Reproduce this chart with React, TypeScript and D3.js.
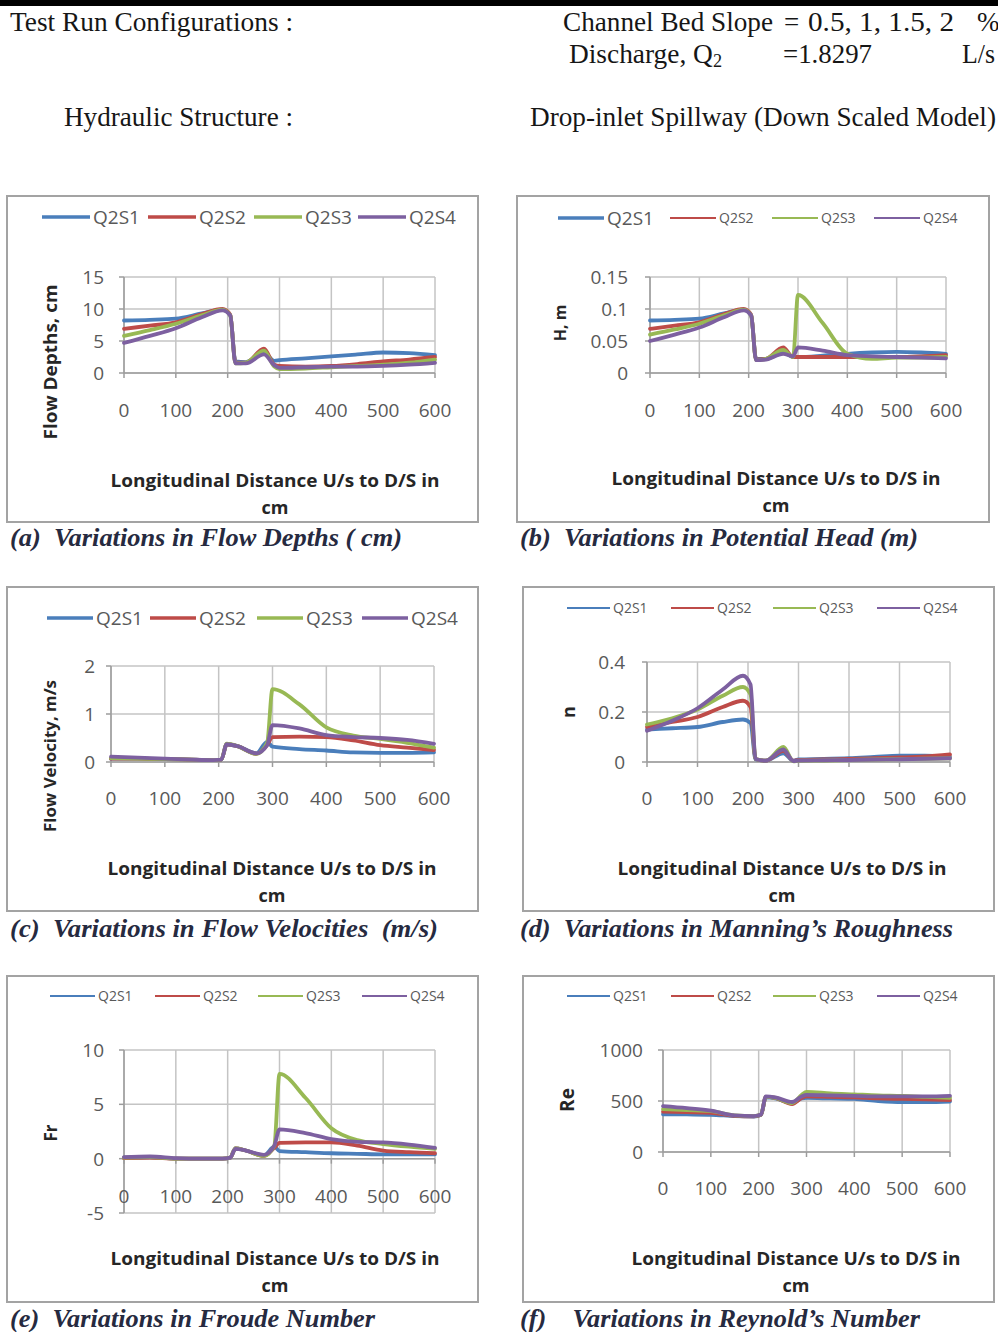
import React from 'react';
import * as d3 from 'd3';

// longitudinal distance (cm) at which every series is sampled
const distance = [0, 50, 100, 150, 190, 205, 215, 235, 270, 290, 300, 350, 400, 450, 500, 550, 600];
const xTicks = [0, 100, 200, 300, 400, 500, 600];
const seriesNames = ['Q2S1', 'Q2S2', 'Q2S3', 'Q2S4'];
const seriesColors = ['#4a7ebb', '#be4b48', '#98b954', '#7d60a0'];

// (a) flow depths, cm
const flowDepths = [
  [8.2, 8.3, 8.5, 9.3, 9.9, 9.0, 1.8, 1.7, 3.2, 1.9, 2.0, 2.3, 2.6, 2.9, 3.2, 3.1, 2.8],
  [6.9, 7.4, 7.9, 9.2, 10.0, 9.1, 1.6, 1.6, 3.8, 1.3, 1.1, 1.0, 1.1, 1.4, 1.8, 2.1, 2.5],
  [5.8, 6.7, 7.7, 9.0, 9.9, 9.0, 1.5, 1.6, 3.5, 1.0, 0.6, 0.7, 0.9, 1.1, 1.3, 1.6, 2.1],
  [4.7, 5.8, 7.0, 8.7, 9.8, 9.0, 1.5, 1.5, 2.9, 1.2, 0.8, 0.9, 1.0, 1.0, 1.1, 1.3, 1.6],
];
const depthTicks = [0, 5, 10, 15];

// (b) potential head, m
const potentialHead = [
  [0.082, 0.083, 0.085, 0.093, 0.099, 0.09, 0.022, 0.022, 0.032, 0.025, 0.025, 0.027, 0.03, 0.032, 0.033, 0.032, 0.03],
  [0.069, 0.074, 0.079, 0.092, 0.1, 0.091, 0.021, 0.022, 0.04, 0.025, 0.025, 0.025, 0.025, 0.025, 0.025, 0.026, 0.028],
  [0.06, 0.068, 0.077, 0.09, 0.099, 0.09, 0.02, 0.022, 0.036, 0.025, 0.122, 0.078, 0.03, 0.022, 0.024, 0.024, 0.025],
  [0.05, 0.06, 0.071, 0.087, 0.098, 0.09, 0.02, 0.021, 0.03, 0.026, 0.04, 0.035, 0.028, 0.026, 0.025, 0.024, 0.023],
];
const headTicks = [0, 0.05, 0.1, 0.15];

// (c) flow velocity, m/s
const flowVelocity = [
  [0.07, 0.07, 0.06, 0.05, 0.04, 0.05, 0.37, 0.33, 0.18, 0.42, 0.32, 0.27, 0.24, 0.2, 0.19, 0.19, 0.2],
  [0.07, 0.07, 0.06, 0.05, 0.04, 0.05, 0.37, 0.33, 0.17, 0.35, 0.52, 0.53, 0.52, 0.45, 0.35, 0.3, 0.25],
  [0.08, 0.07, 0.06, 0.05, 0.04, 0.05, 0.38, 0.33, 0.17, 0.4, 1.52, 1.2, 0.72, 0.55, 0.48, 0.4, 0.3],
  [0.11, 0.09, 0.07, 0.05, 0.04, 0.05, 0.37, 0.33, 0.18, 0.35, 0.77, 0.7, 0.56, 0.52, 0.5, 0.46, 0.38],
];
const velocityTicks = [0, 1, 2];

// (d) Manning's roughness n
const manningN = [
  [0.13, 0.135, 0.14, 0.16, 0.17, 0.155, 0.01, 0.005, 0.035, 0.005, 0.01, 0.012, 0.015, 0.02, 0.025, 0.025, 0.02],
  [0.14, 0.16, 0.18, 0.22, 0.245, 0.22, 0.012, 0.005, 0.045, 0.005, 0.008, 0.01, 0.012, 0.015, 0.018, 0.022, 0.03],
  [0.15, 0.175, 0.21, 0.265, 0.3, 0.27, 0.012, 0.005, 0.06, 0.003, 0.005, 0.006, 0.008, 0.01, 0.012, 0.013, 0.015],
  [0.125, 0.165, 0.215, 0.29, 0.345, 0.31, 0.012, 0.005, 0.05, 0.004, 0.006, 0.007, 0.008, 0.01, 0.011, 0.013, 0.015],
];
const manningTicks = [0, 0.2, 0.4];

// (e) Froude number
const froude = [
  [0.1, 0.15, 0.0, 0.0, 0.0, 0.1, 0.95, 0.75, 0.3, 1.1, 0.7, 0.6, 0.5, 0.45, 0.4, 0.4, 0.4],
  [0.05, 0.1, 0.0, 0.0, 0.0, 0.1, 0.95, 0.75, 0.25, 1.0, 1.45, 1.5, 1.5, 1.2, 0.75, 0.6, 0.5],
  [0.1, 0.15, 0.0, 0.0, 0.0, 0.1, 0.95, 0.75, 0.25, 1.2, 7.8, 5.6, 2.8, 1.7, 1.35, 1.1, 0.9],
  [0.15, 0.2, 0.05, 0.0, 0.0, 0.1, 0.9, 0.75, 0.35, 1.2, 2.7, 2.35, 1.8, 1.55, 1.5, 1.3, 1.0],
];
const froudeTicks = [-5, 0, 5, 10];

// (f) Reynold's number
const reynolds = [
  [370, 368, 365, 352, 348, 365, 535, 525, 480, 525, 530, 525, 520, 500, 490, 490, 495],
  [395, 390, 385, 355, 350, 365, 540, 530, 470, 530, 545, 540, 535, 525, 520, 515, 510],
  [420, 410, 400, 360, 352, 368, 540, 530, 480, 560, 590, 575, 565, 555, 550, 540, 530],
  [450, 430, 405, 360, 352, 368, 545, 535, 490, 545, 560, 555, 550, 545, 545, 545, 550],
];
const reynoldsTicks = [0, 500, 1000];

const xTitle = 'Longitudinal Distance U/s to D/S in';
const SANS = '"Open Sans", "Noto Sans", sans-serif';
const SERIF = '"Liberation Serif", "DejaVu Serif", serif';

const panels = [
  {
    id: 'a', data: flowDepths, ticks: depthTicks, yTitle: 'Flow Depths, cm',
    box: [7, 196, 471, 326], plot: [124, 435, 277, 373], labelY: 417, tickGap: 20,
    yTitleX: 50, yTitleY: 362, yTitleSize: 17, yTitleLen: 155,
    legendX: [42, 148, 254, 358], legendY: 217, legendLen: 48, legendFont: 19, legendW: 3.5, bigFirst: false,
    xTitleCx: 275, xTitleY: 487, cmY: 514,
    caption: '(a)  Variations in Flow Depths ( cm)', capX: 10, capY: 546, capLen: 392,
  },
  {
    id: 'b', data: potentialHead, ticks: headTicks, yTitle: 'H, m',
    box: [517, 196, 472, 326], plot: [650, 946, 277, 373], labelY: 417, tickGap: 22,
    yTitleX: 560, yTitleY: 323, yTitleSize: 16, yTitleLen: 0,
    legendX: [558, 670, 772, 874], legendY: 218, legendLen: 46, legendFont: 14, legendW: 2, bigFirst: true,
    xTitleCx: 776, xTitleY: 485, cmY: 512,
    caption: '(b)  Variations in Potential Head (m)', capX: 520, capY: 546, capLen: 398,
  },
  {
    id: 'c', data: flowVelocity, ticks: velocityTicks, yTitle: 'Flow Velocity, m/s',
    box: [7, 587, 471, 324], plot: [111, 434, 666, 762], labelY: 805, tickGap: 16,
    yTitleX: 50, yTitleY: 756, yTitleSize: 16, yTitleLen: 152,
    legendX: [47, 150, 257, 362], legendY: 618, legendLen: 46, legendFont: 19, legendW: 3.5, bigFirst: false,
    xTitleCx: 272, xTitleY: 875, cmY: 902,
    caption: '(c)  Variations in Flow Velocities  (m/s)', capX: 10, capY: 937, capLen: 428,
  },
  {
    id: 'd', data: manningN, ticks: manningTicks, yTitle: 'n',
    box: [523, 587, 471, 324], plot: [647, 950, 662, 762], labelY: 805, tickGap: 22,
    yTitleX: 568, yTitleY: 712, yTitleSize: 18, yTitleLen: 0,
    legendX: [567, 671, 773, 877], legendY: 608, legendLen: 43, legendFont: 14, legendW: 2, bigFirst: false,
    xTitleCx: 782, xTitleY: 875, cmY: 902,
    caption: '(d)  Variations in Manning\u2019s Roughness', capX: 520, capY: 937, capLen: 433,
  },
  {
    id: 'e', data: froude, ticks: froudeTicks, yTitle: 'Fr',
    box: [7, 976, 471, 326], plot: [124, 435, 1050, 1213], labelY: 1203, tickGap: 20,
    yTitleX: 50, yTitleY: 1133, yTitleSize: 17, yTitleLen: 0,
    legendX: [50, 155, 258, 362], legendY: 996, legendLen: 45, legendFont: 14, legendW: 2, bigFirst: false,
    xTitleCx: 275, xTitleY: 1265, cmY: 1292,
    caption: '(e)  Variations in Froude Number', capX: 10, capY: 1327, capLen: 365,
  },
  {
    id: 'f', data: reynolds, ticks: reynoldsTicks, yTitle: 'Re',
    box: [523, 976, 471, 326], plot: [663, 950, 1050, 1152], labelY: 1195, tickGap: 20,
    yTitleX: 567, yTitleY: 1100, yTitleSize: 19, yTitleLen: 0,
    legendX: [567, 671, 773, 877], legendY: 996, legendLen: 43, legendFont: 14, legendW: 2, bigFirst: false,
    xTitleCx: 796, xTitleY: 1265, cmY: 1292,
    caption: '(f)    Variations in Reynold\u2019s Number', capX: 520, capY: 1327, capLen: 400,
  },
];

const Panel = ({ p }: { p: any }) => {
  const [bx, by, bw, bh] = p.box;
  const [px0, px1, pyTop, pyBot] = p.plot;
  const x = d3.scaleLinear().domain([0, 600]).range([px0, px1]);
  const y = d3.scaleLinear().domain(d3.extent(p.ticks) as [number, number]).range([pyBot, pyTop]);
  const line = d3.line<number>()
    .x((_, i) => x(distance[i]))
    .y(d => y(d))
    .curve(d3.curveMonotoneX);
  const axisY = y(0);

  return (
    <g>
      <rect x={bx} y={by} width={bw} height={bh} fill="#fff" stroke="#a3a3a3" strokeWidth={2} />

      {/* grid */}
      {p.ticks.map((t: number) => (
        <line key={'gy' + t} x1={px0} x2={px1} y1={y(t)} y2={y(t)} stroke="#c4c4c4" strokeWidth={1.5} />
      ))}
      {xTicks.map(t => (
        <line key={'gx' + t} x1={x(t)} x2={x(t)} y1={pyTop} y2={pyBot} stroke="#c4c4c4" strokeWidth={1.5} />
      ))}

      {/* axes */}
      <line x1={px0} x2={px0} y1={pyTop} y2={pyBot} stroke="#9c9c9c" strokeWidth={1.5} />
      {p.ticks.map((t: number) => (
        <line key={'ty' + t} x1={px0 - 5} x2={px0} y1={y(t)} y2={y(t)} stroke="#9c9c9c" strokeWidth={1.5} />
      ))}
      <line x1={px0} x2={px1} y1={axisY} y2={axisY} stroke="#9c9c9c" strokeWidth={1.5} />
      {xTicks.map(t => (
        <line key={'tx' + t} x1={x(t)} x2={x(t)} y1={axisY} y2={axisY + 5} stroke="#9c9c9c" strokeWidth={1.5} />
      ))}

      {/* tick labels */}
      {p.ticks.map((t: number) => (
        <text key={'ly' + t} x={px0 - p.tickGap} y={y(t) + 7} textAnchor="end"
          fontFamily={SANS} fontSize={19} fill="#595959">{String(t)}</text>
      ))}
      {xTicks.map(t => (
        <text key={'lx' + t} x={x(t)} y={p.labelY} textAnchor="middle"
          fontFamily={SANS} fontSize={19} fill="#595959">{String(t)}</text>
      ))}

      {/* series */}
      {p.data.map((vals: number[], i: number) => (
        <path key={'s' + i} d={line(vals) || ''} fill="none" stroke={seriesColors[i]}
          strokeWidth={3.8} strokeLinejoin="round" strokeLinecap="round" />
      ))}

      {/* legend */}
      {seriesNames.map((name, i) => {
        const big = p.bigFirst && i === 0;
        const lw = big ? 3.5 : p.legendW;
        const fs = big ? 19 : p.legendFont;
        const lx = p.legendX[i];
        return (
          <g key={'lg' + i}>
            <line x1={lx} x2={lx + p.legendLen} y1={p.legendY} y2={p.legendY} stroke={seriesColors[i]} strokeWidth={lw} />
            <text x={lx + p.legendLen + 3} y={p.legendY + fs * 0.36} fontFamily={SANS} fontSize={fs} fill="#595959">{name}</text>
          </g>
        );
      })}

      {/* axis titles */}
      <text transform={`translate(${p.yTitleX},${p.yTitleY}) rotate(-90)`} textAnchor="middle"
        dominantBaseline="central" fontFamily={SANS} fontWeight="bold" fontSize={p.yTitleSize} fill="#262626"
        {...(p.yTitleLen ? { textLength: p.yTitleLen, lengthAdjust: 'spacingAndGlyphs' } : {})}>{p.yTitle}</text>
      <text x={p.xTitleCx} y={p.xTitleY} textAnchor="middle" fontFamily={SANS} fontWeight="bold" fontSize={18}
        fill="#262626" textLength={329} lengthAdjust="spacingAndGlyphs">{xTitle}</text>
      <text x={p.xTitleCx} y={p.cmY} textAnchor="middle" fontFamily={SANS} fontWeight="bold" fontSize={18} fill="#262626">cm</text>

      {/* caption */}
      <text x={p.capX} y={p.capY} fontFamily={SERIF} fontStyle="italic" fontWeight="bold" fontSize={26} fill="#262a40"
        textLength={p.capLen} lengthAdjust="spacingAndGlyphs" style={{ whiteSpace: 'pre' }}>{p.caption}</text>
    </g>
  );
};

const App = () => {
  return (
    <svg width={998} height={1332} viewBox="0 0 998 1332"
      style={{ position: 'absolute', left: 0, top: 0, background: '#fff' }}>
      <rect x={0} y={0} width={998} height={1332} fill="#fff" />
      <rect x={0} y={0} width={998} height={6} fill="#000" />

      {/* header */}
      <g fontFamily={SERIF} fontSize={27} fill="#161616">
        <text x={10} y={31} textLength={283} lengthAdjust="spacingAndGlyphs">Test Run Configurations :</text>
        <text x={563} y={31} textLength={210} lengthAdjust="spacingAndGlyphs">Channel Bed Slope</text>
        <text x={784} y={31}>=</text>
        <text x={808} y={31} textLength={146} lengthAdjust="spacingAndGlyphs">0.5, 1, 1.5, 2</text>
        <text x={977} y={31}>%</text>
        <text x={569} y={63} textLength={153} lengthAdjust="spacingAndGlyphs">Discharge, Q<tspan fontSize={18} dy={4}>2</tspan></text>
        <text x={783} y={63} textLength={89} lengthAdjust="spacingAndGlyphs">=1.8297</text>
        <text x={962} y={63} textLength={33} lengthAdjust="spacingAndGlyphs">L/s</text>
        <text x={64} y={126} textLength={229} lengthAdjust="spacingAndGlyphs">Hydraulic Structure :</text>
        <text x={530} y={126} textLength={466} lengthAdjust="spacingAndGlyphs">Drop-inlet Spillway (Down Scaled Model)</text>
      </g>

      {panels.map(p => <Panel key={p.id} p={p} />)}
    </svg>
  );
};

export default App;
